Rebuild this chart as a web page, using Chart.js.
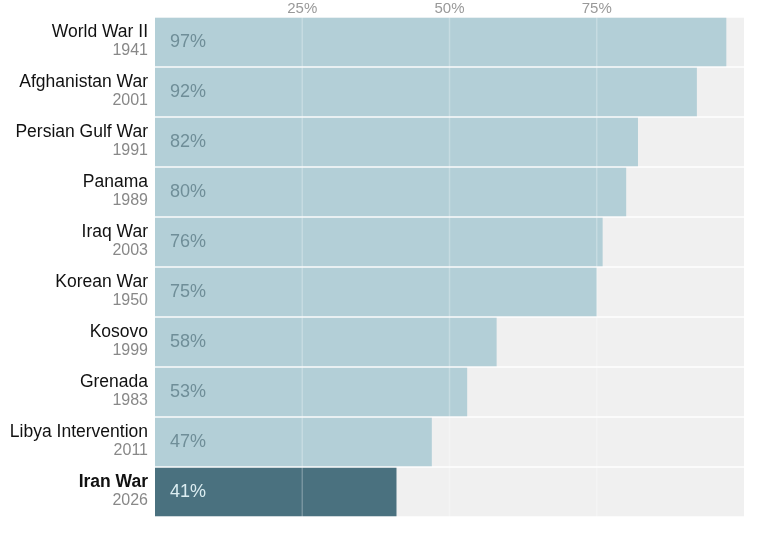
<!DOCTYPE html>
<html>
<head>
<meta charset="utf-8">
<script src="https://cdn.jsdelivr.net/npm/chart.js@4"></script>
<style>
  html, body { margin: 0; padding: 0; background: #fff; }
  #wrap { width: 762px; height: 542px; }
</style>
</head>
<body>
<div id="wrap"><canvas id="chart"></canvas></div>
<script>
const wars = ['World War II', 'Afghanistan War', 'Persian Gulf War', 'Panama', 'Iraq War',
    'Korean War', 'Kosovo', 'Grenada', 'Libya Intervention', 'Iran War'];
const years = ['1941', '2001', '1991', '1989', '2003', '1950', '1999', '1983', '2011', '2026'];
const support = [97, 92, 82, 80, 76, 75, 58, 53, 47, 41];
const full = wars.map(() => 100);
const xTicks = [25, 50, 75];

const FONT = '"Liberation Sans", Arial, sans-serif';
const highlight = wars.length - 1; // Iran War

// row labels on the left, value labels inside bars, light gridlines on top
const labelPlugin = {
    id: 'rowLabels',
    afterDatasetsDraw(chart) {
        const ctx = chart.ctx;
        const x = chart.scales.x;
        const y = chart.scales.y;
        const area = chart.chartArea;
        ctx.save();
        ctx.strokeStyle = 'rgba(255,255,255,0.25)';
        ctx.lineWidth = 1.5;
        xTicks.forEach(t => {
            const px = x.getPixelForValue(t);
            ctx.beginPath();
            ctx.moveTo(px, area.top);
            ctx.lineTo(px, area.bottom);
            ctx.stroke();
        });
        wars.forEach((name, i) => {
            const cy = y.getPixelForValue(i);
            ctx.textAlign = 'right';
            ctx.textBaseline = 'middle';
            ctx.fillStyle = '#111';
            ctx.font = (i === highlight ? 'bold ' : '') + '17.5px ' + FONT;
            ctx.fillText(name, area.left - 7, cy - 10);
            ctx.fillStyle = '#888';
            ctx.font = '16px ' + FONT;
            ctx.fillText(years[i], area.left - 7, cy + 9);

            ctx.textAlign = 'left';
            ctx.font = '18px ' + FONT;
            ctx.fillStyle = i === highlight ? '#dcedf1' : '#6f8e98';
            ctx.fillText(support[i] + '%', area.left + 15, cy);
        });
        ctx.restore();
    }
};

new Chart(document.getElementById('chart'), {
    type: 'bar',
    data: {
        labels: wars,
        datasets: [{
            label: 'Support',
            data: support,
            backgroundColor: support.map((v, i) => i === highlight ? '#4a717f' : '#b3cfd7'),
            barPercentage: 0.97,
            categoryPercentage: 1,
            grouped: false,
            order: 1
        }, {
            label: 'Full',
            data: full,
            backgroundColor: '#f0f0f0',
            barPercentage: 0.97,
            categoryPercentage: 1,
            grouped: false,
            order: 2
        }]
    },
    options: {
        indexAxis: 'y',
        responsive: true,
        maintainAspectRatio: false,
        animation: false,
        layout: {
            padding: { left: 155, right: 18, top: 0, bottom: 25 }
        },
        scales: {
            x: {
                position: 'top',
                min: 0,
                max: 100,
                border: { display: false },
                grid: { display: false, drawTicks: false },
                ticks: {
                    stepSize: 25,
                    padding: 1,
                    color: '#999',
                    font: { family: FONT, size: 15, lineHeight: 1 },
                    callback: (v) => xTicks.includes(v) ? v + '%' : ''
                }
            },
            y: {
                border: { display: false },
                grid: { display: false, drawTicks: false },
                ticks: { display: false }
            }
        },
        plugins: {
            legend: { display: false },
            tooltip: { enabled: false }
        }
    },
    plugins: [labelPlugin]
});
</script>
</body>
</html>
